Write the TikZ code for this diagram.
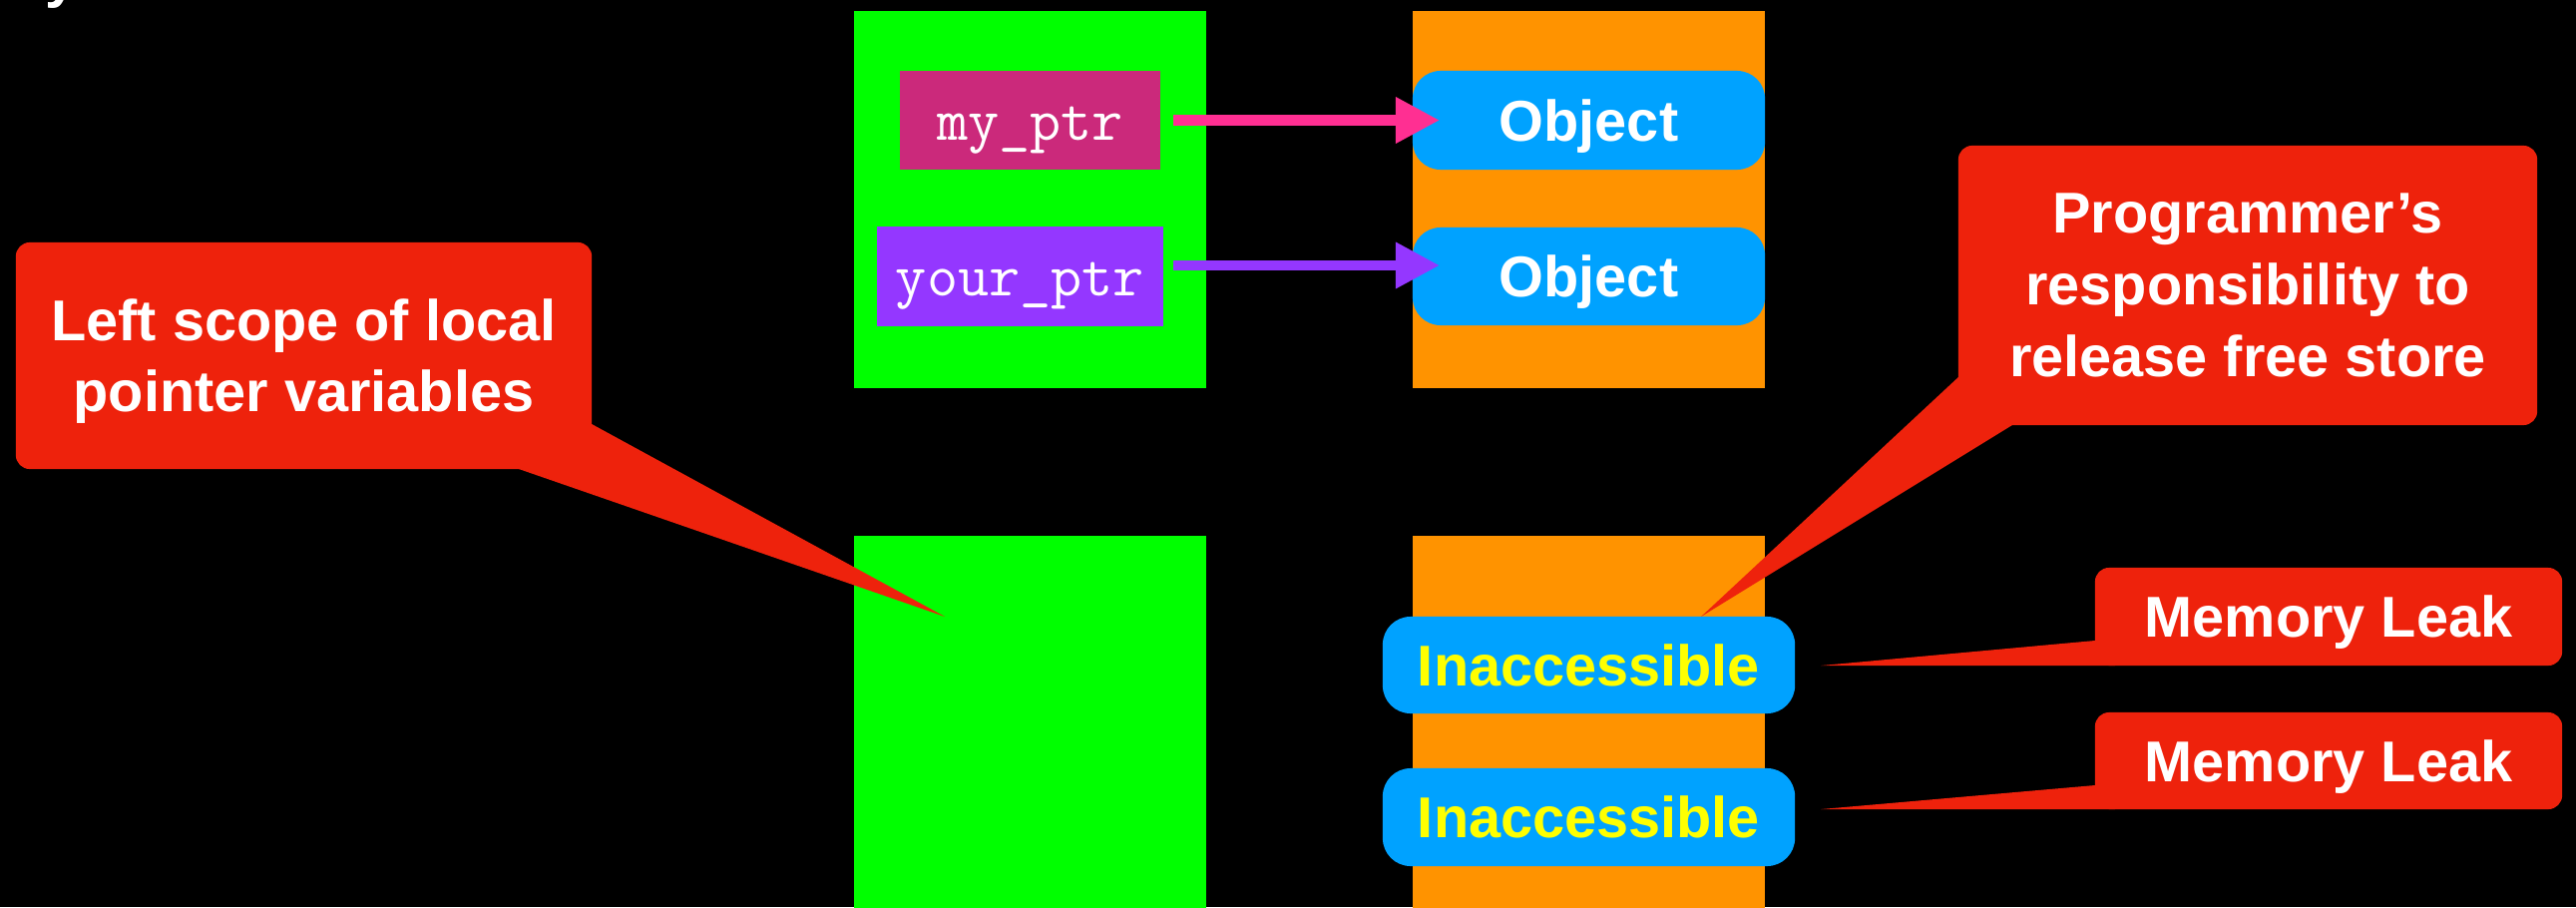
\documentclass[tikz,border=0pt]{standalone}
\usepackage{fontspec}
\setmainfont{Liberation Sans}
\usetikzlibrary{arrows.meta,calc}

\definecolor{stackGreen}{HTML}{00FF00}
\definecolor{heapOrange}{HTML}{FF9300}
\definecolor{objBlue}{HTML}{00A2FF}
\definecolor{noteRed}{HTML}{EE220C}
\definecolor{myPtrMagenta}{HTML}{CB297B}
\definecolor{yourPtrPurple}{HTML}{9437FF}
\definecolor{arrowPink}{HTML}{FF2F92}
\definecolor{arrowPurple}{HTML}{9437FF}
\definecolor{lostYellow}{HTML}{FFFF00}

\tikzset{
  memregion/.style={inner sep=0pt, outer sep=0pt, minimum width=3.53cm},
  stackregion/.style={memregion, fill=stackGreen},
  heapregion/.style={memregion, fill=heapOrange},
  ptrbox/.style={inner sep=0pt, outer sep=0pt, text=white,
    text height=0.54cm, text depth=0.15cm,
    font=\ttfamily\fontsize{17.2}{20}\selectfont},
  objbox/.style={fill=objBlue, rounded corners=0.28cm, inner sep=0pt, outer sep=0pt,
    text=white, text depth=0pt, font=\bfseries\fontsize{16.4}{19}\selectfont},
  lostbox/.style={objbox, text=lostYellow, minimum width=4.13cm},
  ptrarrow/.style={line width=0.1cm, -{Triangle[length=0.44cm,width=0.44cm]}},
  notebox/.style={fill=noteRed, rounded corners=0.14cm, inner sep=0pt, outer sep=0pt,
    text=white, align=center, text depth=0pt,
    font=\bfseries\fontsize{16.4}{20.4}\selectfont},
  notetail/.style={fill=noteRed},
}

\begin{document}
\begin{tikzpicture}[x=0.01cm, y=-0.01cm]
  \useasboundingbox (0,0) rectangle (2582,909);
  \fill[black] (0,0) rectangle (2582,909);
  \clip (0,0) rectangle (2582,909);

  % heading line running off the top edge
  \node[anchor=base, text=white, inner sep=0pt, font=\bfseries\fontsize{16.4}{19}\selectfont]
    (heading) at (62,-4) {y};

  % stack and free store, before
  \node[stackregion, minimum height=3.78cm] (stackTop) at (1032.5,200) {};
  \node[heapregion,  minimum height=3.78cm] (heapTop)  at (1592.5,200) {};

  % stack and free store, after
  \node[stackregion, minimum height=3.80cm] (stackBot) at (1032.5,727) {};
  \node[heapregion,  minimum height=3.80cm] (heapBot)  at (1592.5,727) {};

  % pointer variables
  \node[ptrbox, fill=myPtrMagenta, minimum width=2.61cm, minimum height=0.99cm]
    (myPtr) at (1032.5,120.5) {my\_ptr};
  \node[ptrbox, fill=yourPtrPurple, minimum width=2.87cm, minimum height=1.00cm]
    (yourPtr) at (1022.5,277) {your\_ptr};

  % objects on the free store
  \node[objbox, minimum width=3.53cm, minimum height=0.99cm] (obj1) at (1592.5,120.5) {Object};
  \node[objbox, minimum width=3.53cm, minimum height=0.98cm] (obj2) at (1592.5,277) {Object};
  \node[lostbox, minimum height=0.97cm] (lost1) at (1592.5,666.5) {Inaccessible};
  \node[lostbox, minimum height=0.98cm] (lost2) at (1592.5,819) {Inaccessible};

  % pointers
  \draw[ptrarrow, arrowPink] ([xshift=0.13cm]myPtr.east) -- ([xshift=0.27cm]obj1.west);
  \draw[ptrarrow, arrowPurple] ([xshift=0.10cm,yshift=0.11cm]yourPtr.east)
    -- ([xshift=0.27cm,yshift=0.11cm]obj2.west);

  % callout: scope
  \node[notebox, minimum width=5.77cm, minimum height=2.27cm,
        font=\bfseries\fontsize{16.4}{20.2}\selectfont]
    (scopeNote) at (304.5,356.5) {Left scope of local\\pointer variables};
  \coordinate (scopeTip) at ([xshift=0.91cm,yshift=-0.81cm]stackBot.north west);
  \fill[notetail] ([yshift=0.45cm]scopeNote.south east) -- (scopeTip)
    -- ([xshift=-0.73cm]scopeNote.south east) -- cycle;

  % callout: responsibility
  \node[notebox, minimum width=5.80cm, minimum height=2.80cm,
        font=\bfseries\fontsize{16.4}{20.5}\selectfont]
    (progNote) at (2253,286) {Programmer’s\\responsibility to\\release free store};
  \fill[notetail] ([yshift=0.48cm]progNote.south west) -- ([xshift=1.125cm]lost1.north)
    -- ([xshift=0.54cm]progNote.south west) -- cycle;

  % callouts: leaks
  \node[notebox, minimum width=4.68cm, minimum height=0.98cm] (leak1) at (2334,618) {Memory Leak};
  \fill[notetail] ([yshift=0.25cm]leak1.south west) -- ([xshift=0.26cm]lost1.east |- leak1.south)
    -- ([xshift=0.2cm]leak1.south west) -- ([xshift=0.2cm,yshift=0.25cm]leak1.south west) -- cycle;

  \node[notebox, minimum width=4.68cm, minimum height=0.97cm] (leak2) at (2334,762.5) {Memory Leak};
  \fill[notetail] ([yshift=0.24cm]leak2.south west) -- ([xshift=0.26cm]lost2.east |- leak2.south)
    -- ([xshift=0.2cm]leak2.south west) -- ([xshift=0.2cm,yshift=0.24cm]leak2.south west) -- cycle;
\end{tikzpicture}
\end{document}
